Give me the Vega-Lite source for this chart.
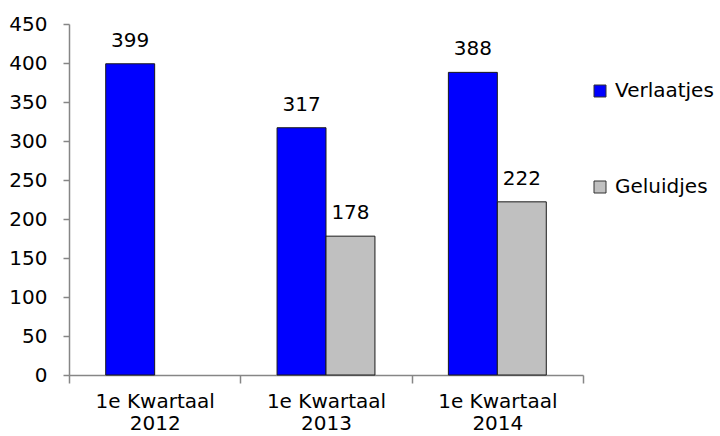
{
  "$schema": "https://vega.github.io/schema/vega-lite/v6.json",
  "width": 514,
  "height": 351,
  "autosize": {"type": "none"},
  "padding": {"left": 69, "top": 24, "right": 137, "bottom": 61},
  "config": {"view": {"stroke": null}, "font": "DejaVu Sans", "text": {"font": "DejaVu Sans"}},
  "data": {"values": [
    {"kwartaal": "1e Kwartaal 2012", "reeks": "Verlaatjes", "aantal": 399},
    {"kwartaal": "1e Kwartaal 2013", "reeks": "Verlaatjes", "aantal": 317},
    {"kwartaal": "1e Kwartaal 2013", "reeks": "Geluidjes", "aantal": 178},
    {"kwartaal": "1e Kwartaal 2014", "reeks": "Verlaatjes", "aantal": 388},
    {"kwartaal": "1e Kwartaal 2014", "reeks": "Geluidjes", "aantal": 222}
  ]},
  "encoding": {
    "x": {
      "field": "kwartaal", "type": "nominal",
      "scale": {"paddingInner": 0, "paddingOuter": 0},
      "axis": {
        "title": null, "labelAngle": 0, "tickBand": "extent", "tickSize": 8,
        "domainColor": "#868686", "tickColor": "#868686", "domainWidth": 1.5, "tickWidth": 1.5,
        "labelExpr": "datum.label == '' ? '' : ['1e Kwartaal', substring(datum.label, 12)]",
        "labelFontSize": 20, "labelLineHeight": 22.5, "labelPadding": 8, "labelBaseline": "top",
        "labelColor": "#000000", "grid": false
      }
    },
    "xOffset": {
      "field": "reeks", "type": "nominal",
      "scale": {"domain": ["Verlaatjes", "Geluidjes"], "paddingInner": 0, "paddingOuter": 0.75}
    },
    "y": {
      "field": "aantal", "type": "quantitative",
      "scale": {"domain": [0, 450]},
      "axis": {
        "title": null, "values": [0, 50, 100, 150, 200, 250, 300, 350, 400, 450], "grid": false,
        "domainColor": "#868686", "tickColor": "#868686", "domainWidth": 1.5, "tickWidth": 1.5,
        "tickSize": 6, "labelFontSize": 20, "labelPadding": 16, "labelColor": "#000000"
      }
    }
  },
  "layer": [
    {
      "mark": {"type": "bar", "stroke": "#1a1a1a", "strokeWidth": 1},
      "encoding": {
        "color": {
          "field": "reeks", "type": "nominal",
          "scale": {"domain": ["Verlaatjes", "Geluidjes"], "range": ["#0000FF", "#C0C0C0"]},
          "legend": {
            "title": null, "orient": "none", "legendX": 521, "legendY": 57,
            "symbolType": "square", "symbolSize": 144, "symbolStrokeColor": "#333333",
            "symbolStrokeWidth": 1, "symbolOpacity": 1, "labelFontSize": 20, "labelOffset": 5,
            "rowPadding": 76, "padding": 0, "labelColor": "#000000"
          }
        }
      }
    },
    {
      "mark": {"type": "text", "baseline": "alphabetic", "dy": -17, "fontSize": 20, "color": "#000000"},
      "encoding": {"text": {"field": "aantal", "type": "quantitative"}}
    }
  ]
}
